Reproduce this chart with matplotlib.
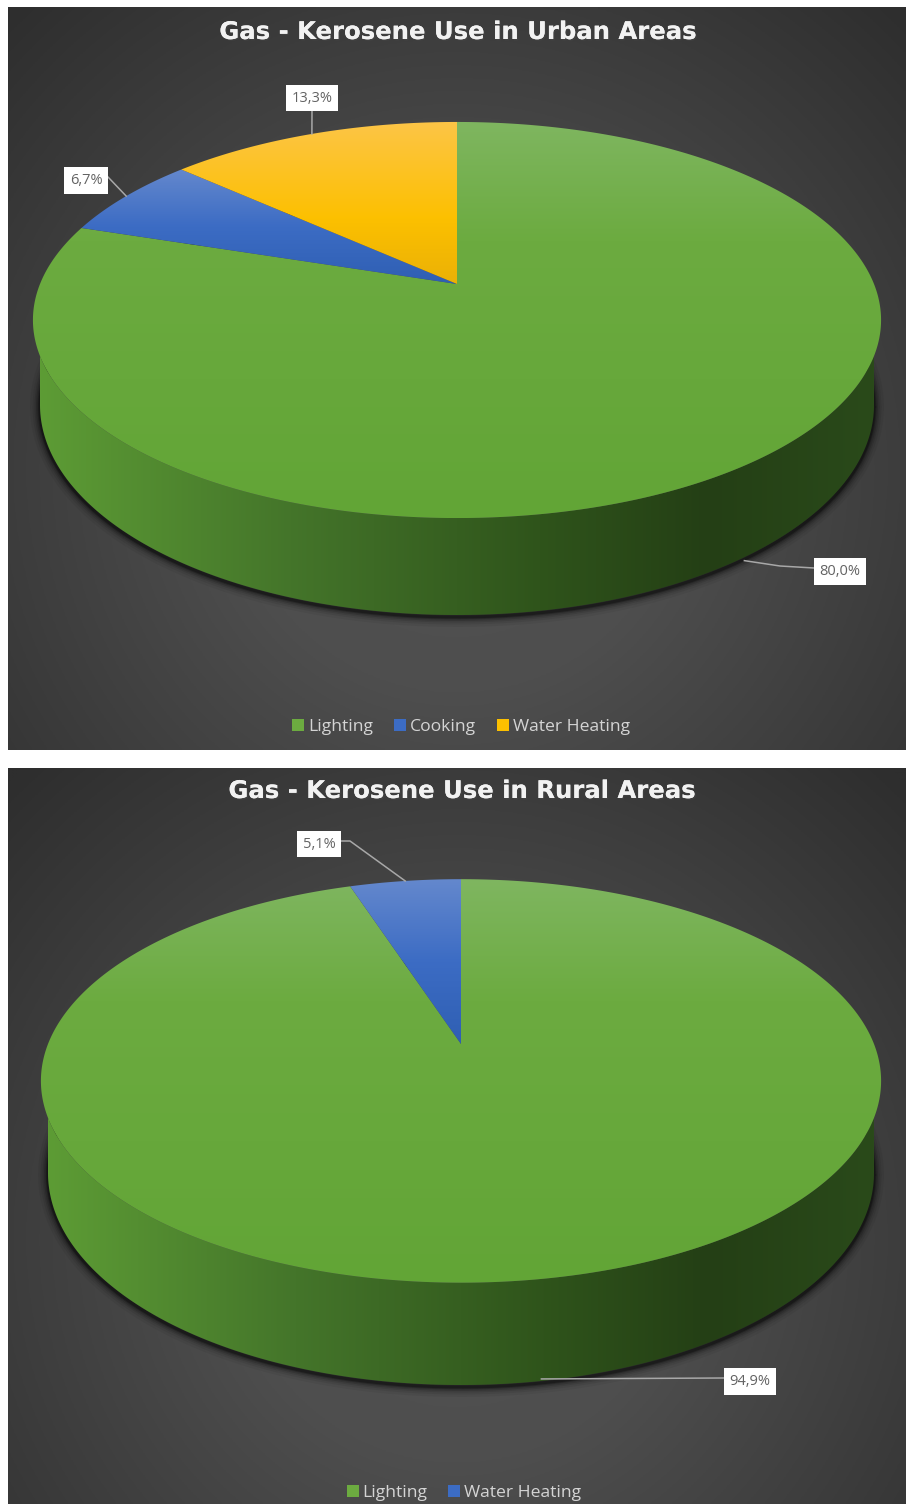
import numpy as np
import matplotlib
matplotlib.use("Agg")
import matplotlib.pyplot as plt
import matplotlib.patheffects as pe
from matplotlib.patches import Patch, Polygon

plt.rcParams['font.family'] = ['Open Sans', 'DejaVu Sans']

# urban chart
urban_title = "Gas - Kerosene Use in Urban Areas"
urban_labels = ["Lighting", "Cooking", "Water Heating"]
urban_values = [80.0, 6.7, 13.3]
urban_texts = ["80,0%", "6,7%", "13,3%"]

# rural chart
rural_title = "Gas - Kerosene Use in Rural Areas"
rural_labels = ["Lighting", "Water Heating"]
rural_values = [94.9, 5.1]
rural_texts = ["94,9%", "5,1%"]

GREEN = [(0.0, "#7fb660"), (0.3, "#6cab40"), (1.0, "#62a536")]
BLUE = [(0.0, "#6488cd"), (0.5, "#3c6cc4"), (1.0, "#2f5fb3")]
YELLOW = [(0.0, "#fdc547"), (0.6, "#fcc000"), (1.0, "#ebb106")]
WALL = [(0.0, "#5d9c35"), (0.3, "#44752a"), (0.6, "#2f541b"), (0.8, "#243f15"), (1.0, "#2a4a1a")]

W, H = 906, 1504


def to_rgb_stops(stops):
    pos = [s[0] for s in stops]
    rgb = np.array([matplotlib.colors.to_rgb(s[1]) for s in stops])
    return pos, rgb


def gradient(ax, stops, extent, clip, horizontal=False):
    # linear colour ramp clipped to a patch
    x0, x1, y0, y1 = extent
    t = np.linspace(0, 1, 512)
    pos, rgb = to_rgb_stops(stops)
    col = np.stack([np.interp(t, pos, rgb[:, i]) for i in range(3)], axis=-1)
    img = col[None, :, :] if horizontal else col[:, None, :]
    im = ax.imshow(img, extent=(x0, x1, y1, y0), origin="upper", aspect="auto",
                   interpolation="bilinear", zorder=clip.get_zorder())
    clip.set_visible(False)
    ax.add_patch(clip)
    im.set_clip_path(clip)


def background(ax, box, centre):
    x0, x1, y0, y1 = box
    xx, yy = np.meshgrid(np.linspace(x0, x1, 300), np.linspace(y0, y1, 300))
    r = np.hypot((xx - centre[0]) / 640, (yy - centre[1]) / 640)
    v = np.interp(r, [0, 0.35, 1.0], [0x52, 0x4e, 0x2e]) / 255
    ax.imshow(np.dstack([v, v, v]), extent=(x0, x1, y1, y0), origin="upper",
              aspect="auto", zorder=0)


def draw_panel(ax, box, title, labels, values, texts, geo):
    x0, x1, y0, y1 = box
    cx, ax_y = geo["cx"], geo["apex"]
    k, a, b = geo["k"], geo["a"], geo["b"]
    background(ax, box, geo["glow"])

    def rim(theta):
        # perspective projection of the pie circle, apex at its centre
        d = 1 + k * np.cos(theta)
        return cx + a * np.sin(theta) / d, ax_y - b * np.cos(theta) / d

    # lower rim of the slab
    t = np.linspace(0, 2 * np.pi, 720)
    lx = cx + geo["low_rx"] * np.cos(t)
    ly = geo["low_cy"] + geo["low_ry"] * np.sin(t)

    # soft shadow under the slab
    for lw, al in zip([20, 15, 11, 8, 5, 3], [0.05, 0.07, 0.10, 0.14, 0.2, 0.3]):
        ax.plot(lx, ly + 2, color="black", lw=lw * 0.72, alpha=al, zorder=1,
                solid_capstyle="round")

    # side wall: front of the top rim, then back along the lower rim
    rt = np.linspace(0, 2 * np.pi, 1441)
    ux, uy = rim(rt)
    front = np.arange(np.argmax(ux), np.argmin(ux) + 1)
    s = np.linspace(np.pi, 0, 361)
    wall_x = np.r_[ux[front], cx + geo["low_rx"] * np.cos(s)]
    wall_y = np.r_[uy[front], geo["low_cy"] + geo["low_ry"] * np.sin(s)]
    wall = Polygon(np.c_[wall_x, wall_y], closed=True, transform=ax.transData, zorder=2)
    gradient(ax, WALL, (cx - geo["low_rx"], cx + geo["low_rx"], y0, y1), wall, horizontal=True)

    # top faces, clockwise from twelve o'clock
    fills = geo["fills"]
    start = 0.0
    top, bottom = ax_y - b / (1 + k), ax_y + b / (1 - k)
    mids = []
    for v, fill in zip(values, fills):
        end = start + v / sum(values) * 2 * np.pi
        th = np.linspace(start, end, max(int(v * 12), 20))
        px, py = rim(th)
        poly = Polygon(np.c_[np.r_[cx, px], np.r_[ax_y, py]], closed=True,
                       transform=ax.transData, zorder=3)
        if fill is GREEN:
            gradient(ax, fill, (cx - 440, cx + 440, top, bottom), poly)
        else:
            gradient(ax, fill, (cx - 440, cx + 440, py.min(), ax_y), poly)
        mids.append((start + end) / 2)
        start = end

    # leader lines and value boxes
    for mid, text, lab in zip(mids, texts, geo["boxes"]):
        mx, my = rim(mid)
        if np.cos(mid) < 0:
            my += geo["depth"]
        bx, by, bend = lab
        ax.plot([mx] + [p[0] for p in bend], [my] + [p[1] for p in bend],
                color="#a8a8a8", lw=1.1, zorder=4)
        ax.text(bx, by, text, ha="center", va="center", fontsize=10.5, color="#636363",
                zorder=5, bbox=dict(boxstyle="square,pad=0.4", fc="white", ec="none"))

    ax.text(cx, geo["title_y"], title, ha="center", va="center", fontsize=17.5,
            family="DejaVu Sans", fontweight="bold", color="#f2f2f2", zorder=5,
            path_effects=[pe.withSimplePatchShadow(offset=(1, -1), alpha=0.45), pe.Normal()])

    handles = [Patch(facecolor=f[1][1], edgecolor="none", label=l) for f, l in zip(fills, labels)]
    leg = ax.legend(handles=handles, loc="center", ncol=len(handles), frameon=False,
                    bbox_to_anchor=(geo["leg_x"], geo["leg_y"]), bbox_transform=ax.transData,
                    fontsize=12.6, labelcolor="#d4d4d4", handlelength=0.68, handleheight=0.68,
                    handletextpad=0.22, columnspacing=1.2, borderpad=0, borderaxespad=0)
    leg.set_zorder(5)

    ax.set_xlim(x0, x1)
    ax.set_ylim(y1, y0)
    ax.axis("off")


def panel_axes(fig, box):
    x0, x1, y0, y1 = box
    return fig.add_axes([x0 / W, 1 - y1 / H, (x1 - x0) / W, (y1 - y0) / H])


fig = plt.figure(figsize=(W / 100, H / 100), dpi=100, facecolor="white")

urban_box = (8, 906, 7, 750)
urban_geo = dict(cx=457, apex=284, k=0.1818, a=417, b=191.5, depth=95,
                 low_rx=417, low_cy=405, low_ry=210, glow=(457, 470),
                 fills=[GREEN, BLUE, YELLOW], title_y=32, leg_x=461, leg_y=727,
                 boxes=[(840, 571.5, [(780, 566), (814, 568)]),
                        (86, 180.5, [(108, 177)]),
                        (312, 98, [(312, 110)])])
draw_panel(panel_axes(fig, urban_box), urban_box, urban_title, urban_labels,
           urban_values, urban_texts, urban_geo)

rural_box = (8, 906, 768, 1504)
rural_geo = dict(cx=461, apex=1044, k=0.183, a=413, b=195, depth=100,
                 low_rx=413, low_cy=1173, low_ry=212, glow=(457, 1240),
                 fills=[GREEN, BLUE], title_y=791, leg_x=464, leg_y=1493,
                 boxes=[(750, 1381.5, [(724, 1378)]),
                        (319, 844, [(350, 841), (340, 841)])])
draw_panel(panel_axes(fig, rural_box), rural_box, rural_title, rural_labels,
           rural_values, rural_texts, rural_geo)

fig.savefig("out.png", dpi=100, facecolor="white")
